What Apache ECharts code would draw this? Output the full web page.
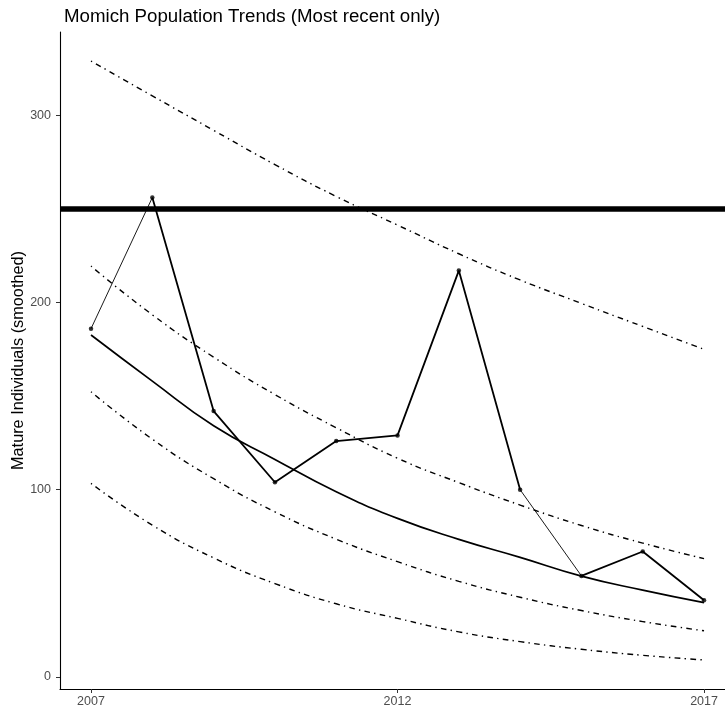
<!DOCTYPE html>
<html>
<head>
<meta charset="utf-8">
<script src="https://cdn.jsdelivr.net/npm/echarts@6/dist/echarts.min.js"></script>
<style>html,body{margin:0;padding:0;background:#fff;}#c{width:725px;height:710px;}</style>
</head>
<body>
<div id="c"></div>
<script>
var years = [2007, 2008, 2009, 2010, 2011, 2012, 2013, 2014, 2015, 2016, 2017];
var counts = [186, 256, 142, 104, 126, 129, 217, 100, 54, 67, 41];
var trend = [182.6, 158, 134.2, 116.2, 98.9, 84.7, 73.5, 63.9, 53.9, 46.4, 39.7];
var upperOuter = [328.9, 310.3, 291.9, 273.6, 256.6, 241.3, 226, 212, 199.5, 187.2, 175];
var upperInner = [219.4, 193.4, 170.8, 150.8, 133.1, 116.8, 103.8, 91.8, 80.9, 71.5, 63.2];
var lowerInner = [152.3, 127, 105.9, 88.2, 73.6, 61.6, 51.1, 42.6, 35.5, 29.6, 24.7];
var lowerOuter = [103.4, 81.1, 63.6, 49.9, 39.1, 31.3, 24.1, 18.9, 14.8, 11.6, 9.1];
var threshold = 250;
var yTicks = [0, 100, 200, 300];
var xTicks = [2007, 2012, 2017];
var thinSegments = [[0, 1], [7, 8]];
var thickRuns = [[1, 7], [8, 10]];

function pairs(arr, a, b) {
  var out = [];
  for (var i = a; i <= b; i++) out.push([years[i], arr[i]]);
  return out;
}
var dotdash = [1.4, 4.3, 5.7, 4.3];
var series = [];
function curve(arr) {
  series.push({type: 'line', data: pairs(arr, 0, years.length - 1), smooth: true, symbol: 'none',
    lineStyle: {color: '#000', width: 1.4, type: dotdash}, silent: true});
}
curve(upperOuter); curve(upperInner); curve(lowerInner); curve(lowerOuter);
series.push({type: 'line', data: pairs(trend, 0, years.length - 1), smooth: true, symbol: 'none',
  lineStyle: {color: '#000', width: 1.7}});
thinSegments.forEach(function (s) {
  series.push({type: 'line', data: pairs(counts, s[0], s[1]), symbol: 'none', lineStyle: {color: '#000', width: 0.9}});
});
thickRuns.forEach(function (s) {
  series.push({type: 'line', data: pairs(counts, s[0], s[1]), symbol: 'none', lineStyle: {color: '#000', width: 1.8}});
});
series.push({type: 'scatter', data: pairs(counts, 0, years.length - 1), symbolSize: 4.5, itemStyle: {color: '#000'}});
series.push({type: 'line', data: [], markLine: {silent: true, symbol: 'none', label: {show: false},
  lineStyle: {color: '#000', width: 5.7, type: 'solid'}, data: [{yAxis: threshold}]}});

var tickFont = 'Liberation Sans Narrow, Liberation Sans, sans-serif';
var chart = echarts.init(document.getElementById('c'), null, {renderer: 'canvas'});
chart.setOption({
  animation: false,
  backgroundColor: '#fff',
  title: {text: 'Momich Population Trends (Most recent only)', left: 59, top: 2,
    textStyle: {fontFamily: 'Liberation Sans', fontSize: 18.7, fontWeight: 'normal', color: '#000'}},
  grid: {left: 60, top: 32, bottom: 21, right: 0, containLabel: false, outerBoundsMode: 'none'},
  xAxis: {type: 'value', min: 2006.494, max: 2017.342,
    axisLine: {show: true, onZero: false, lineStyle: {color: '#000', width: 1.1}},
    axisTick: {show: true, length: 4, lineStyle: {color: '#333'}, customValues: xTicks},
    axisLabel: {color: '#4d4d4d', fontSize: 12.5, fontFamily: tickFont, margin: 6, customValues: xTicks,
      formatter: function (v) { return String(v); }},
    splitLine: {show: false}},
  yAxis: {type: 'value', min: -6.4, max: 344.4,
    name: 'Mature Individuals (smoothed)', nameLocation: 'middle', nameGap: 33, nameRotate: 90,
    nameMoveOverlap: false,
    nameTextStyle: {color: '#000', fontSize: 16.3, fontFamily: 'Liberation Sans'},
    axisLine: {show: true, onZero: false, lineStyle: {color: '#000', width: 1.1}},
    axisTick: {show: true, length: 4, lineStyle: {color: '#333'}, customValues: yTicks},
    axisLabel: {color: '#4d4d4d', fontSize: 12.5, fontFamily: tickFont, margin: 9, customValues: yTicks},
    splitLine: {show: false}},
  series: series
});
</script>
</body>
</html>
